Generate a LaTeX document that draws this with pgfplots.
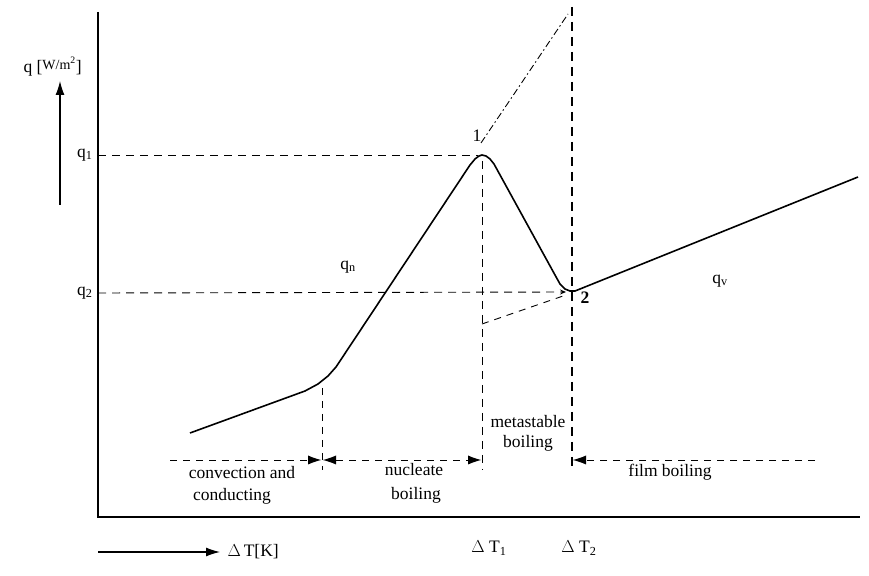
\documentclass[border=0pt]{standalone}
\usepackage{fontspec}
\setmainfont{Liberation Serif}
\usepackage{pgfplots}
\pgfplotsset{compat=1.18}
\usetikzlibrary{arrows.meta}
\begin{document}
\begin{tikzpicture}[font=\fontsize{17.5}{21}\selectfont]
\begin{axis}[
  scale only axis, width=869pt, height=575pt,
  xmin=0, xmax=869, ymin=0, ymax=575,
  axis line style={draw=none}, ticks=none, clip=false,
]
% axes
\addplot[black, line width=1.2pt] coordinates {(98,563) (98,58) (860,58)};
% boiling curve
\addplot[black, line width=1.6pt] coordinates {
 (190,142) (305,184) (318,191) (328,199) (336,208) (470,410) (475,416) (479,419) (482,420) (486,419) (490,416) (494,411)
 (555,300) (560,291) (565,286) (570,284) (575,284) (580,286) (858,398)};
% q1, q2 dashed
\addplot[black, line width=0.9pt, dash pattern=on 8pt off 6pt] coordinates {(98,420) (478,420)};
\addplot[black, line width=0.9pt, dash pattern=on 8pt off 6pt, -{Stealth[length=6pt,width=5pt,sep=0pt]}] coordinates {(98,282) (566,283)};
% verticals
\addplot[black, line width=0.9pt, dash pattern=on 8pt off 6pt] coordinates {(482,414) (482,105)};
\addplot[black, line width=1.2pt, dash pattern=on 9pt off 6pt] coordinates {(572,568) (572,105)};
\addplot[black, line width=0.9pt, dash pattern=on 7pt off 6pt] coordinates {(322,187) (322,105)};
% extensions
\addplot[black, line width=0.9pt, dash pattern=on 7pt off 3pt on 1.5pt off 3pt] coordinates {(481,432) (568,561)};
\addplot[black, line width=0.9pt, dash pattern=on 7pt off 6pt] coordinates {(482,251) (563,279)};
% region arrows
\addplot[black, line width=0.9pt, dash pattern=on 7pt off 6pt, -{Latex[length=13pt,width=9pt,line width=0pt]}] coordinates {(170,115) (321,115)};
\addplot[black, line width=0.9pt, dash pattern=on 7pt off 6pt, {Latex[length=13pt,width=9pt,line width=0pt]}-{Latex[length=13pt,width=9pt,line width=0pt]}] coordinates {(323,115) (481,115)};
\addplot[black, line width=0.9pt, dash pattern=on 7pt off 6pt, -{Latex[length=13pt,width=9pt,line width=0pt]}] coordinates {(815,115) (573,115)};
% axis direction arrows
\addplot[black, line width=1.2pt, -{Latex[length=14pt,width=9pt]}] coordinates {(60,370) (60,494)};
\addplot[black, line width=1.2pt, -{Latex[length=14pt,width=9pt]}] coordinates {(98,23) (220,23)};
% labels
\node[anchor=west] at (axis cs:20,508) {q [\raisebox{0.45ex}{\fontsize{14}{16}\selectfont W/m\textsuperscript{2}}]};
\node[anchor=east] at (axis cs:96,420) {q\textsubscript{1}};
\node[anchor=east] at (axis cs:96,282) {q\textsubscript{2}};
\node at (axis cs:477,439) {1};
\node at (axis cs:585,277) {\textbf{2}};
\node at (axis cs:348,308) {q\textsubscript{n}};
\node at (axis cs:720,294) {q\textsubscript{v}};
\node at (axis cs:528,153) {metastable};
\node at (axis cs:528,132) {boiling};
\node at (axis cs:242,102) {convection and};
\node at (axis cs:232,79) {conducting};
\node at (axis cs:414,105) {nucleate};
\node at (axis cs:416,80) {boiling};
\node at (axis cs:670,103) {film boiling};
\node at (axis cs:489,27) {$\Delta$ T\textsubscript{1}};
\node at (axis cs:579,27) {$\Delta$ T\textsubscript{2}};
\node[anchor=west] at (axis cs:224,23) {$\Delta$\,T[K]};
\end{axis}
\end{tikzpicture}
\end{document}
